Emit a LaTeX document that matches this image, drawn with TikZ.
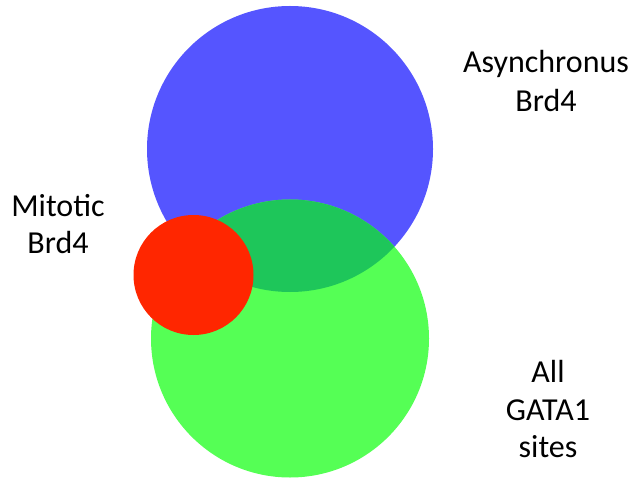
\documentclass[tikz,border=0pt]{standalone}
\usepackage{fontspec}
\setmainfont{Carlito}
\definecolor{vblue}{RGB}{85,85,255}
\definecolor{vgreen}{RGB}{85,255,85}
\definecolor{vover}{RGB}{30,198,90}
\definecolor{vred}{RGB}{255,38,0}
\begin{document}
\begin{tikzpicture}[x=1pt,y=-1pt,
  lab/.style={anchor=base,inner sep=0pt,font=\fontsize{32}{38}\selectfont}]
\useasboundingbox (0,0) rectangle (636,478);
\fill[vblue] (290,149) circle (143);
\fill[vgreen] (290,338.5) circle (139);
\begin{scope}
  \clip (290,149) circle (143);
  \fill[vover] (290,338.5) circle (139);
\end{scope}
\fill[vred] (193.5,275) circle (60);
\node[lab] (a1) at (546,73) {Asynchronus};
\node[lab] (a2) at (546,111.5) {Brd4};
\node[lab] (m1) at (58,216) {Mitotic};
\node[lab] (m2) at (58,253) {Brd4};
\node[lab] (g1) at (548,382) {All};
\node[lab] (g2) at (548,420) {GATA1};
\node[lab] (g3) at (548,457) {sites};
\end{tikzpicture}
\end{document}
